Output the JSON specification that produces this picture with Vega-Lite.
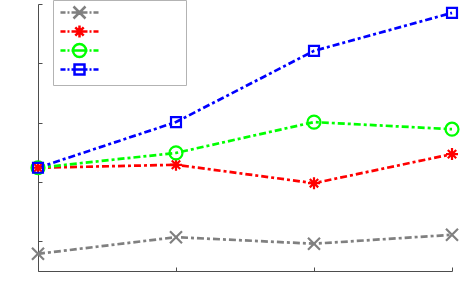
{
  "$schema": "https://vega.github.io/schema/vega-lite/v6.json",
  "width": 414,
  "height": 267,
  "autosize": {"type": "none"},
  "padding": {"left": 38, "top": 4, "right": 9, "bottom": 31},
  "background": "white",
  "config": {
    "view": {"stroke": null},
    "axis": {"grid": false, "labels": false, "title": null, "domainColor": "#4d4d4d", "tickColor": "#4d4d4d", "tickSize": -4, "domainWidth": 1, "tickWidth": 1}
  },
  "data": {
    "values": [
      {"x": 1, "y": 0.79, "s": "A"}, {"x": 2, "y": 1.07, "s": "A"}, {"x": 3, "y": 0.96, "s": "A"}, {"x": 4, "y": 1.11, "s": "A"},
      {"x": 1, "y": 2.24, "s": "B"}, {"x": 2, "y": 2.29, "s": "B"}, {"x": 3, "y": 1.98, "s": "B"}, {"x": 4, "y": 2.47, "s": "B"},
      {"x": 1, "y": 2.24, "s": "C"}, {"x": 2, "y": 2.49, "s": "C"}, {"x": 3, "y": 3.01, "s": "C"}, {"x": 4, "y": 2.89, "s": "C"},
      {"x": 1, "y": 2.24, "s": "D"}, {"x": 2, "y": 3.01, "s": "D"}, {"x": 3, "y": 4.21, "s": "D"}, {"x": 4, "y": 4.85, "s": "D"}
    ]
  },
  "encoding": {
    "x": {"field": "x", "type": "quantitative", "scale": {"domain": [1, 4], "nice": false, "zero": false}, "axis": {"values": [1, 2, 3, 4]}},
    "y": {"field": "y", "type": "quantitative", "scale": {"domain": [0.5, 5], "nice": false, "zero": false}, "axis": {"values": [1, 2, 3, 4, 5]}}
  },
  "resolve": {"scale": {"color": "independent", "shape": "independent"}, "legend": {"color": "independent", "shape": "independent"}},
  "layer": [
    {
      "mark": {"type": "line", "strokeWidth": 2.7, "strokeDash": [7, 3, 3, 3]},
      "encoding": {
        "color": {"field": "s", "type": "nominal", "legend": null,
          "scale": {"domain": ["A", "B", "C", "D"], "range": ["#808080", "#ff0000", "#00ff00", "#0000ff"]}}
      }
    },
    {
      "mark": {"type": "point", "filled": false, "size": 144, "strokeWidth": 2.2, "opacity": 1},
      "encoding": {
        "color": {"field": "s", "type": "nominal", "legend": null,
          "scale": {"domain": ["A", "B", "C", "D"], "range": ["#808080", "#ff0000", "#00ff00", "#0000ff"]}},
        "shape": {
          "field": "s", "type": "nominal", "legend": null,
          "scale": {"domain": ["A", "B", "C", "D"], "range": [
            "M-1,-1L1,1M-1,1L1,-1",
            "M-1,0L1,0M0,-1L0,1M-0.7,-0.7L0.7,0.7M-0.7,0.7L0.7,-0.7",
            "M1.08,0A1.08,1.08 0 1,1 -1.08,0A1.08,1.08 0 1,1 1.08,0Z",
            "M-0.83,-0.83H0.83V0.83H-0.83Z"
          ]}
        }
      }
    },
    {
      "transform": [{"filter": "false"}],
      "mark": {"type": "point", "filled": false, "size": 144, "strokeWidth": 2.5, "opacity": 1},
      "encoding": {
        "color": {"field": "s", "type": "nominal",
          "scale": {"domain": ["A", "B", "C", "D"], "range": ["#808080", "#ff0000", "#00ff00", "#0000ff"]},
          "legend": {
            "orient": "none", "legendX": 15, "legendY": -4, "title": null,
            "padding": 5, "strokeColor": "#b3b3b3", "fillColor": "white",
            "symbolSize": 144, "symbolStrokeWidth": 2.5, "symbolOffset": 14,
            "rowPadding": -11.5, "labelExpr": "''", "labelOffset": 94, "labelFontSize": 10
          }
        },
        "shape": {
          "field": "s", "type": "nominal",
          "scale": {"domain": ["A", "B", "C", "D"], "range": [
            "M-3.17,0H-2.33M-2,0H-1.67M-1.33,0H1.33M1.67,0H2M2.33,0H3.17M-1,-1L1,1M-1,1L1,-1",
            "M-3.17,0H-2.33M-2,0H-1.67M-1.33,0H1.33M1.67,0H2M2.33,0H3.17M0,-1L0,1M-0.7,-0.7L0.7,0.7M-0.7,0.7L0.7,-0.7",
            "M-3.17,0H-2.33M-2,0H-1.67M-1.33,0H1.33M1.67,0H2M2.33,0H3.17M1.08,0A1.08,1.08 0 1,1 -1.08,0A1.08,1.08 0 1,1 1.08,0Z",
            "M-3.17,0H-2.33M-2,0H-1.67M-1.33,0H1.33M1.67,0H2M2.33,0H3.17M-0.83,-0.83H0.83V0.83H-0.83Z"
          ]},
          "legend": {
            "orient": "none", "legendX": 15, "legendY": -4, "title": null,
            "padding": 5, "strokeColor": "#b3b3b3", "fillColor": "white",
            "symbolSize": 144, "symbolStrokeWidth": 2.5, "symbolOffset": 14,
            "rowPadding": -11.5, "labelExpr": "''", "labelOffset": 94, "labelFontSize": 10
          }
        }
      }
    }
  ]
}
